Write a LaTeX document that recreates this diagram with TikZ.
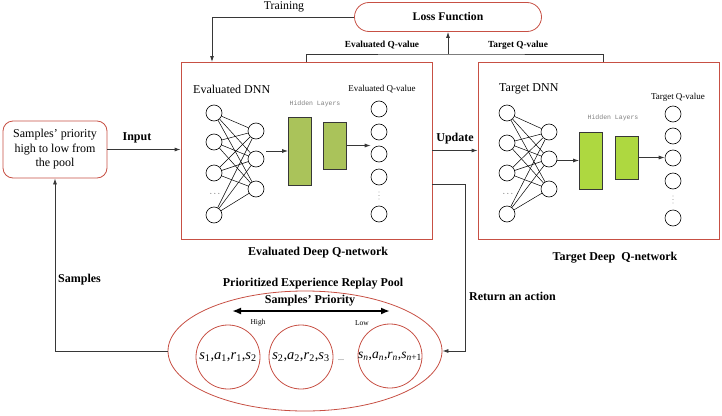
\documentclass[tikz,border=0pt]{standalone}
\usepackage{fontspec}
\setmainfont{Liberation Serif}
\setmonofont{Liberation Mono}
\usetikzlibrary{arrows.meta,shapes.geometric}

\definecolor{boxred}{RGB}{199,80,68}
\definecolor{olivegreen}{RGB}{170,195,90}
\definecolor{limegreen}{RGB}{174,216,64}
\definecolor{linegray}{RGB}{55,55,55}

\newcommand{\trsub}[2]{\textit{#1}\textsubscript{#2}}

\tikzset{
  neuron/.style={circle,draw=black,line width=0.6pt,minimum size=16pt,inner sep=0pt},
  layerbox/.style={draw=linegray,line width=0.8pt,minimum width=23pt,inner sep=0pt},
  netbox/.style={draw=boxred,line width=0.8pt,inner sep=0pt},
  conn/.style={draw=linegray,line width=0.8pt},
  arr/.style={conn,-{Latex[length=6pt,width=4pt]}},
  boldlbl/.style={font=\bfseries\fontsize{12}{14}\selectfont,inner sep=0pt},
  smallbold/.style={font=\bfseries\fontsize{9.3}{11}\selectfont,inner sep=0pt},
  titlelbl/.style={font=\fontsize{12}{14}\selectfont,inner sep=0pt,anchor=west},
  qlbl/.style={font=\fontsize{9}{11}\selectfont,inner sep=0pt},
  hidlbl/.style={font=\ttfamily\fontsize{6.5}{8}\selectfont,text=gray,inner sep=0pt},
  dotlbl/.style={font=\fontsize{8}{8}\selectfont,text=darkgray,inner sep=0pt},
  expcircle/.style={circle,draw=boxred,line width=0.8pt,minimum size=64pt,inner sep=0pt}
}

\begin{document}
\begin{tikzpicture}[x=1pt,y=-1pt]
\useasboundingbox (0,0) rectangle (722,415);

% boxes
\node[netbox,rounded corners=10pt,minimum width=104pt,minimum height=57pt,
      align=center,font=\fontsize{12}{14.5}\selectfont] (prio) at (55,149.5)
      {Samples’ priority\\high to low from\\the pool};
\node[netbox,minimum width=251pt,minimum height=177pt] (evalbox) at (306.5,150.5) {};
\node[netbox,minimum width=241pt,minimum height=177pt] (tgtbox) at (598.5,150.5) {};
\node[netbox,rounded corners=14.5pt,minimum width=187pt,minimum height=29pt,
      font=\bfseries\fontsize{11.7}{13}\selectfont] (loss) at (448,17) {Loss Function};
\node[ellipse,netbox,minimum width=274pt,minimum height=120pt] (pool) at (305,351) {};

% evaluated DNN
\node[titlelbl] (etitle) at (193,89) {Evaluated DNN};
\node[qlbl] (eqtitle) at (382,89) {Evaluated Q-value};
\node[hidlbl] (ehidtitle) at (315,104) {Hidden Layers};
\foreach \y [count=\i] in {113,142,173,215}
  \node[neuron] (ein\i) at (214,\y) {};
\foreach \y [count=\i] in {131,159,189}
  \node[neuron] (ehid\i) at (256,\y) {};
\foreach \i in {1,...,4}
  \foreach \j in {1,...,3}
    \draw[line width=0.5pt] (ein\i) -- (ehid\j);
\node[dotlbl] (edots) at (215,195) {·\,·\,·};
\node[layerbox,fill=olivegreen,minimum height=68pt] (ehl1) at (300,151) {};
\node[layerbox,fill=olivegreen,minimum height=47pt] (ehl2) at (334.5,145.5) {};
\foreach \y [count=\i] in {109,132,154,177,214}
  \node[neuron] (eout\i) at (379,\y) {};
\foreach \d in {-3.5,0,3.5}
  \fill[darkgray] (379,195.5+\d) circle (0.45pt);
\draw[arr] ([xshift=-22pt]ehl1.west) -- (ehl1.west);
\draw[arr] (ehl2.east) -- (ehl2.east -| eout3.west);

% target DNN
\node[titlelbl] (ttitle) at (499,89) {Target DNN};
\node[qlbl] (tqtitle) at (678,97) {Target Q-value};
\node[hidlbl] (thidtitle) at (613,118) {Hidden Layers};
\foreach \y [count=\i] in {113,143,173,214}
  \node[neuron] (tin\i) at (507,\y) {};
\foreach \y [count=\i] in {132,159,189}
  \node[neuron] (thid\i) at (549,\y) {};
\foreach \i in {1,...,4}
  \foreach \j in {1,...,3}
    \draw[line width=0.5pt] (tin\i) -- (thid\j);
\node[dotlbl] (tdots) at (508,195) {·\,·\,·};
\node[layerbox,fill=limegreen,minimum height=57pt] (thl1) at (591,160.5) {};
\node[layerbox,fill=limegreen,minimum height=43pt] (thl2) at (626.5,157.5) {};
\foreach \y [count=\i] in {114,136,158,181,218}
  \node[neuron] (tout\i) at (673,\y) {};
\foreach \d in {-3.5,0,3.5}
  \fill[darkgray] (673,199.5+\d) circle (0.45pt);
\draw[arr] ([xshift=-22pt]thl1.west) -- (thl1.west);
\draw[arr] (thl2.east) -- (thl2.east -| tout3.west);

% replay pool
\node[boldlbl] (pooltitle) at (313,284) {Prioritized Experience Replay Pool};
\node[boldlbl] (prtitle) at (310,301) {Samples’ Priority};
\coordinate (prhigh) at (232,311);
\coordinate (prlow) at (390,311);
\draw[line width=2pt,{Latex[length=9pt,width=7pt]}-{Latex[length=9pt,width=7pt]}] (prhigh) -- (prlow);
\node[qlbl,font=\fontsize{7.5}{9}\selectfont] (high) at (258,323) {High};
\node[qlbl,font=\fontsize{7.5}{9}\selectfont] (low) at (362,323) {Low};
\node[expcircle,label={[font=\fontsize{14.5}{16}\selectfont]center:\trsub{s}{1},\trsub{a}{1},\trsub{r}{1},\trsub{s}{2}}] (exp1) at (228,357) {};
\node[expcircle,label={[font=\fontsize{14.5}{16}\selectfont]center:\trsub{s}{2},\trsub{a}{2},\trsub{r}{2},\trsub{s}{3}}] (exp2) at (301,357) {};
\node[expcircle,label={[font=\fontsize{13.5}{16}\selectfont]center:\trsub{s}{\textit{n}},\trsub{a}{\textit{n}},\trsub{r}{\textit{n}},\trsub{s}{\textit{n}+1}}] (exp3) at (390,356) {};
\node[dotlbl] (expdots) at (341,360) {...};

% connectors
\draw[arr] (prio.east) -- (prio.east -| evalbox.west);
\node[boldlbl] (inputlbl) at (137,138) {Input};
\draw[arr] (evalbox.east) -- (tgtbox.west);
\node[boldlbl] (updatelbl) at (455,139) {Update};

\coordinate (etrain) at (212,62);
\draw[arr] (loss.west) -| (etrain);
\node[font=\fontsize{11.8}{13}\selectfont,inner sep=0pt] (traininglbl) at (284,7) {Training};

\coordinate (evq) at (306,62);
\coordinate (tgq) at (603,62);
\coordinate (qjoin) at (448,54);
\draw[conn] (evq) |- (qjoin) -| (tgq);
\draw[arr] (qjoin) -- (loss.south);
\node[smallbold] (evqlbl) at (382,45) {Evaluated Q-value};
\node[smallbold] (tgqlbl) at (518,45) {Target Q-value};

\coordinate (eret) at (432,184);
\draw[arr] (eret) -- ++(33,0) |- (pool.east);
\node[boldlbl,anchor=west] (retlbl) at (469,296) {Return an action};

\draw[arr] (pool.west) -| (prio.south);
\node[boldlbl,anchor=west] (samplbl) at (58,280) {Samples};

\node[boldlbl] (evalname) at (318,253) {Evaluated Deep Q-network};
\node[boldlbl] (tgtname) at (615,258) {Target Deep\ \ Q-network};

\end{tikzpicture}
\end{document}
